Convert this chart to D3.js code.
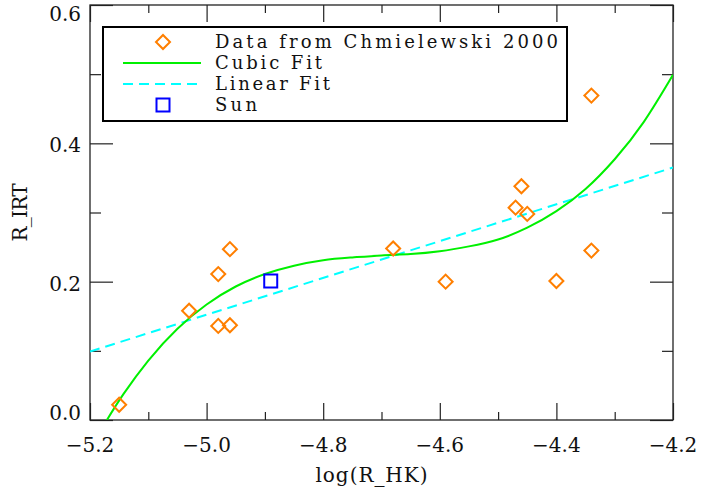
<!DOCTYPE html>
<html>
<head>
<meta charset="utf-8">
<script src="https://cdn.jsdelivr.net/npm/d3@7"></script>
<style>
  body { margin: 0; background: #fff; }
  svg { display: block; }
  text { font-family: "DejaVu Serif", serif; fill: #111; }
</style>
</head>
<body>
<script>
// Chmielewski 2000 sample
const logRHK = [-5.15, -5.03, -4.98, -4.96, -4.98, -4.96, -4.68, -4.59, -4.47, -4.46, -4.45, -4.40, -4.34, -4.34];
const rIRT   = [0.022, 0.158, 0.211, 0.247, 0.136, 0.137, 0.248, 0.200, 0.307, 0.338, 0.298, 0.201, 0.245, 0.469];

const sunX = [-4.89];
const sunY = [0.201];

// cubic fit
const cubicX = [-5.171, -5.143, -5.10, -5.05, -5.00, -4.95, -4.90, -4.85, -4.80, -4.75, -4.70,
                -4.65, -4.60, -4.55, -4.50, -4.45, -4.40, -4.35, -4.30, -4.25, -4.20];
const cubicY = [0.000, 0.037, 0.086, 0.132, 0.167, 0.193, 0.211, 0.223, 0.231, 0.235, 0.238,
                0.240, 0.244, 0.251, 0.261, 0.278, 0.302, 0.334, 0.377, 0.431, 0.499];

// linear fit end points
const linearX = [-5.2, -4.2];
const linearY = [0.099, 0.365];

const xTicks = [-5.2, -5.0, -4.8, -4.6, -4.4, -4.2];
const xMinor = [-5.1, -4.9, -4.7, -4.5, -4.3];
const yTicks = [0.0, 0.2, 0.4, 0.6];
const yMinor = [0.1, 0.3, 0.5];

const legendLabels = ['Data from Chmielewski 2000', 'Cubic Fit', 'Linear Fit', 'Sun'];

const W = 701, H = 489;
const m = { left: 90, right: 28, top: 5, bottom: 69 };

const x = d3.scaleLinear().domain([-5.2, -4.2]).range([m.left, W - m.right]);
const y = d3.scaleLinear().domain([0, 0.6]).range([H - m.bottom, m.top]);

const svg = d3.select('body').append('svg')
    .attr('width', W)
    .attr('height', H);

svg.append('clipPath').attr('id', 'plot')
  .append('rect')
    .attr('x', m.left).attr('y', m.top)
    .attr('width', W - m.left - m.right)
    .attr('height', H - m.top - m.bottom);

// ticks
const fmt = d3.format('.1f');
function ticks(axis, vals, size, tx, ty) {
  const g = svg.append('g')
      .attr('transform', `translate(${tx},${ty})`)
      .call(axis.tickValues(vals).tickSize(size).tickFormat(''));
  g.select('.domain').remove();
  g.selectAll('line').attr('stroke', '#222').attr('stroke-width', 1.2);
  return g;
}
const bottom = H - m.bottom, right = W - m.right;
ticks(d3.axisBottom(x), xTicks, -17, 0, bottom);
ticks(d3.axisBottom(x), xMinor, -8, 0, bottom);
ticks(d3.axisTop(x), xTicks, -17, 0, m.top);
ticks(d3.axisTop(x), xMinor, -8, 0, m.top);
ticks(d3.axisLeft(y), yTicks, -23, m.left, 0);
ticks(d3.axisLeft(y), yMinor, -11, m.left, 0);
ticks(d3.axisRight(y), yTicks, -23, right, 0);
ticks(d3.axisRight(y), yMinor, -11, right, 0);

svg.append('rect')
    .attr('x', m.left).attr('y', m.top)
    .attr('width', W - m.left - m.right)
    .attr('height', H - m.top - m.bottom)
    .attr('fill', 'none')
    .attr('stroke', '#222')
    .attr('stroke-width', 1.3);

// tick labels
svg.append('g').selectAll('text').data(xTicks).join('text')
    .attr('x', d => x(d))
    .attr('y', bottom + 32)
    .attr('text-anchor', 'middle')
    .attr('font-size', 20)
    .text(d => fmt(d));

svg.append('g').selectAll('text').data(yTicks).join('text')
    .attr('x', m.left - 9)
    .attr('y', d => {
      const p = y(d) + 9;
      return Math.min(Math.max(p, m.top + 16), bottom);
    })
    .attr('text-anchor', 'end')
    .attr('font-size', 20)
    .text(d => fmt(d));

// axis titles
svg.append('text')
    .attr('x', (m.left + right) / 2 - 10)
    .attr('y', 482)
    .attr('text-anchor', 'middle')
    .attr('font-size', 20)
    .attr('textLength', 112)
    .text('log(R_HK)');

svg.append('text')
    .attr('transform', `translate(27,${(m.top + bottom) / 2}) rotate(-90)`)
    .attr('text-anchor', 'middle')
    .attr('font-size', 20)
    .attr('textLength', 58)
    .text('R_IRT');

// fits
const plot = svg.append('g').attr('clip-path', 'url(#plot)');

const line = d3.line().x(d => x(d[0])).y(d => y(d[1]));

plot.append('path')
    .datum(d3.zip(linearX, linearY))
    .attr('d', line)
    .attr('fill', 'none')
    .attr('stroke', '#00ffff')
    .attr('stroke-width', 2)
    .attr('stroke-dasharray', '10,6');

plot.append('path')
    .datum(d3.zip(cubicX, cubicY))
    .attr('d', line.curve(d3.curveNatural))
    .attr('fill', 'none')
    .attr('stroke', '#00f000')
    .attr('stroke-width', 2);

// points
const diamond = d3.symbol(d3.symbolSquare, 98)();
plot.append('g').selectAll('path').data(d3.zip(logRHK, rIRT)).join('path')
    .attr('d', diamond)
    .attr('transform', d => `translate(${x(d[0])},${y(d[1])}) rotate(45)`)
    .attr('fill', 'none')
    .attr('stroke', '#ff7f00')
    .attr('stroke-width', 2);

const square = d3.symbol(d3.symbolSquare, 169)();
plot.append('g').selectAll('path').data(d3.zip(sunX, sunY)).join('path')
    .attr('d', square)
    .attr('transform', d => `translate(${x(d[0])},${y(d[1])})`)
    .attr('fill', 'none')
    .attr('stroke', '#0000ff')
    .attr('stroke-width', 2);

// legend
const lg = svg.append('g');
lg.append('rect')
    .attr('x', 103).attr('y', 27)
    .attr('width', 464).attr('height', 94)
    .attr('fill', '#fff')
    .attr('stroke', '#000')
    .attr('stroke-width', 2);

const rowY = [42, 63, 84, 105];
const textLen = [343, 107, 115, 42];

lg.append('path')
    .attr('d', diamond)
    .attr('transform', `translate(163,${rowY[0]}) rotate(45)`)
    .attr('fill', 'none').attr('stroke', '#ff7f00').attr('stroke-width', 2);
lg.append('line')
    .attr('x1', 123).attr('x2', 201).attr('y1', rowY[1]).attr('y2', rowY[1])
    .attr('stroke', '#00f000').attr('stroke-width', 2);
lg.append('line')
    .attr('x1', 123).attr('x2', 201).attr('y1', rowY[2]).attr('y2', rowY[2])
    .attr('stroke', '#00ffff').attr('stroke-width', 2)
    .attr('stroke-dasharray', '10,6');
lg.append('path')
    .attr('d', square)
    .attr('transform', `translate(163,${rowY[3]})`)
    .attr('fill', 'none').attr('stroke', '#0000ff').attr('stroke-width', 2);

lg.selectAll('text.lab').data(legendLabels).join('text')
    .attr('class', 'lab')
    .attr('x', 215)
    .attr('y', (d, i) => rowY[i] + 5.5)
    .attr('font-size', 18)
    .attr('textLength', (d, i) => textLen[i])
    .attr('lengthAdjust', 'spacing')
    .text(d => d);
</script>
</body>
</html>
